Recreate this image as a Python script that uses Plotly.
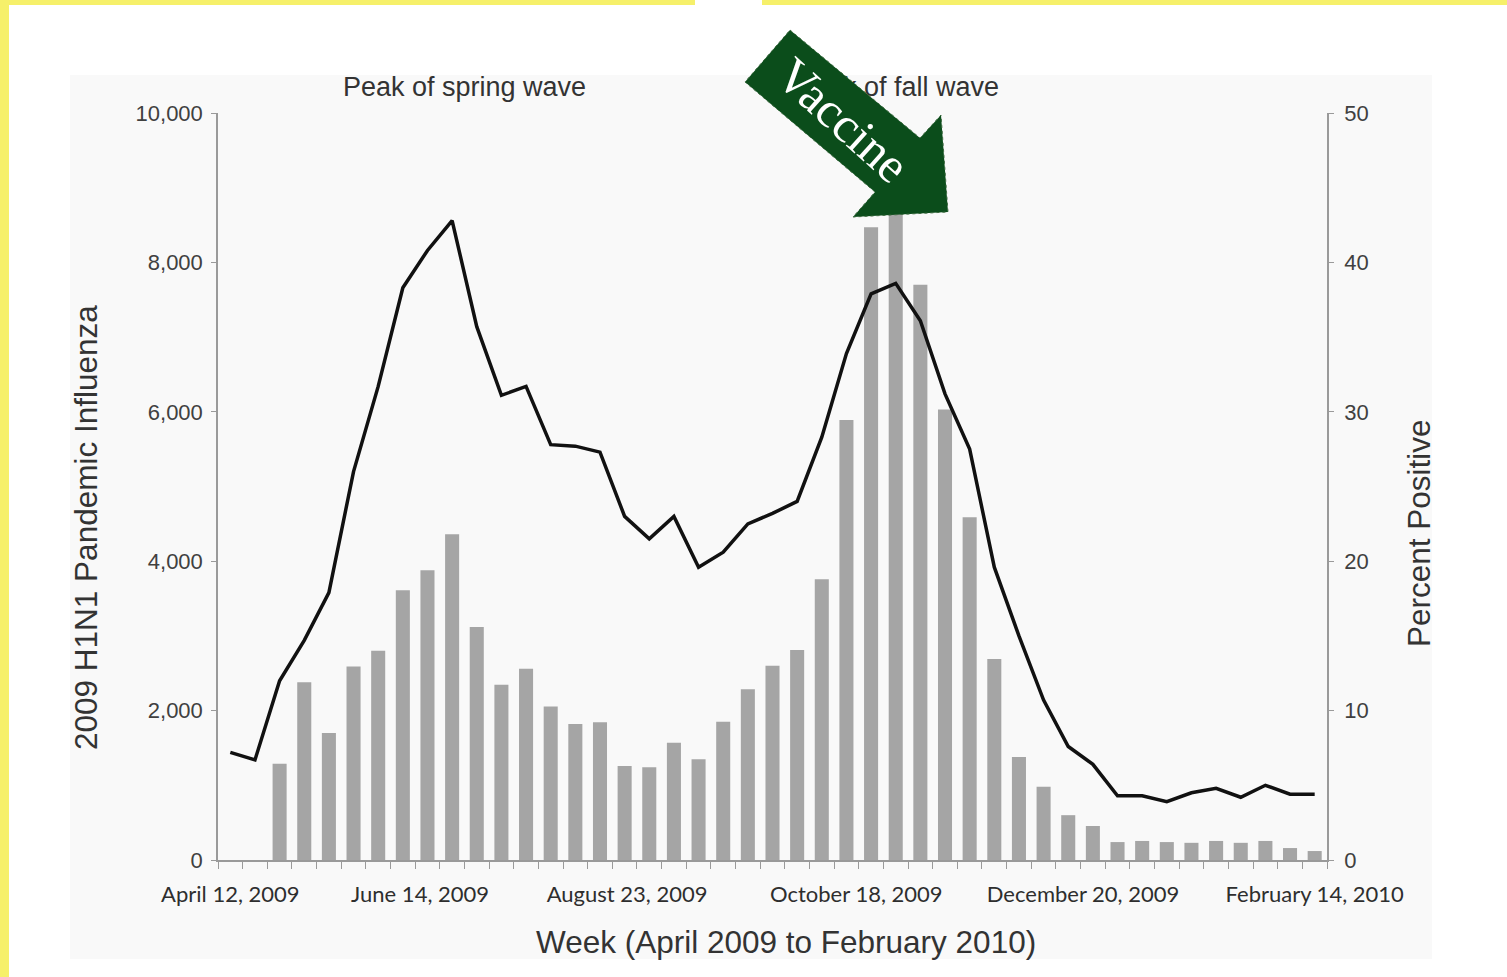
import plotly.graph_objects as go

# ---------------- data ----------------
week_index = list(range(45))  # weekly, April 12, 2009 .. February 14, 2010
cases = [None, None, 1290, 2380, 1700, 2590, 2800, 3610, 3880, 4360,
         3120, 2345, 2560, 2055, 1820, 1845, 1260, 1240, 1570, 1350,
         1850, 2285, 2600, 2810, 3760, 5890, 8470, 8750, 7700, 6030,
         4590, 2690, 1380, 980, 600, 455, 240, 255, 240, 230,
         255, 230, 255, 160, 120]
percent_positive = [7.2, 6.7, 12.0, 14.7, 17.9, 26.0, 31.7, 38.3, 40.8, 42.8,
                    35.7, 31.1, 31.7, 27.8, 27.7, 27.3, 23.0, 21.5, 23.0, 19.6,
                    20.6, 22.5, 23.2, 24.0, 28.3, 33.9, 37.9, 38.6, 36.1, 31.2,
                    27.5, 19.6, 15.0, 10.7, 7.6, 6.4, 4.3, 4.3, 3.9, 4.5,
                    4.8, 4.2, 5.0, 4.4, 4.4]
tick_labels = ["April 12, 2009", "June 14, 2009", "August 23, 2009",
               "October 18, 2009", "December 20, 2009", "February 14, 2010"]
tick_positions = [0, 7.7, 16.1, 25.4, 34.6, 44]
left_ticks = [0, 2000, 4000, 6000, 8000, 10000]
right_ticks = [0, 10, 20, 30, 40, 50]
wave_labels = ["Peak of spring wave", "Peak of fall wave"]
wave_positions = [9.5, 27.05]
x_title = "Week (April 2009 to February 2010)"
y_title = "2009 H1N1 Pandemic Influenza"
y2_title = "Percent Positive"

# ---------------- geometry helpers (pixel -> paper) ----------------
L, R, T, B = 218, 1327, 113, 860
W, H = 1507, 977
def px(x):
    return (x - L) / (R - L)
def py(y):
    return (B - y) / (B - T)

fig = go.Figure()

fig.add_trace(go.Bar(
    x=week_index, y=cases, marker=dict(color="#a5a5a5", line=dict(width=0)),
    width=0.57, name="Cases", xaxis="x", yaxis="y"))

fig.add_trace(go.Scatter(
    x=week_index, y=percent_positive, mode="lines", xaxis="x2", yaxis="y2",
    line=dict(color="#111111", width=3.5), name="Percent Positive"))

axis_col = "#9a9a9a"
sans = "Liberation Sans, Arial, sans-serif"
tick_font = dict(family=sans, size=22, color="#404040")
title_font = dict(family=sans, size=31.5, color="#333333")

shapes = []
# light chart panel
shapes.append(dict(type="rect", xref="paper", yref="paper", layer="below",
                   x0=px(70), x1=px(1432), y0=py(959), y1=py(75),
                   fillcolor="#f9f9f9", line=dict(width=0)))
# yellow frame strips
yellow = "#f6f06a"
shapes.append(dict(type="rect", xref="paper", yref="paper", layer="below",
                   x0=px(0), x1=px(9), y0=py(H), y1=py(0),
                   fillcolor=yellow, line=dict(width=0)))
shapes.append(dict(type="rect", xref="paper", yref="paper", layer="below",
                   x0=px(0), x1=px(695), y0=py(5), y1=py(0),
                   fillcolor=yellow, line=dict(width=0)))
shapes.append(dict(type="rect", xref="paper", yref="paper", layer="below",
                   x0=px(762), x1=px(W), y0=py(5), y1=py(0),
                   fillcolor=yellow, line=dict(width=0)))
# green block arrow
arrow_px = [(790, 30), (920, 138), (941, 115), (948, 212), (853, 217), (875, 192), (745, 82)]
path = "M " + " L ".join(f"{px(a):.5f},{py(b):.5f}" for a, b in arrow_px) + " Z"
shapes.append(dict(type="path", xref="paper", yref="paper", layer="above", path=path,
                   fillcolor="#0b4d1b", line=dict(color="#3d6b40", width=1, dash="dot")))

annotations = [
    dict(xref="paper", yref="paper", x=px(843), y=py(120), text="Vaccine",
         showarrow=False, textangle=42, xanchor="center", yanchor="middle",
         font=dict(family="Liberation Serif, Times New Roman, serif", size=50, color="white")),
    dict(xref="paper", yref="paper", x=px(786), y=py(942), text=x_title,
         showarrow=False, xanchor="center", yanchor="middle", font=title_font),
    dict(xref="paper", yref="paper", x=px(86), y=py(528), text=y_title, textangle=-90,
         showarrow=False, xanchor="center", yanchor="middle", font=title_font),
    dict(xref="paper", yref="paper", x=px(1419), y=py(533), text=y2_title, textangle=-90,
         showarrow=False, xanchor="center", yanchor="middle", font=title_font),
]

fig.update_layout(
    width=W, height=H, autosize=False,
    margin=dict(l=L, r=W - R, t=T, b=H - B, pad=0),
    paper_bgcolor="white", plot_bgcolor="rgba(0,0,0,0)",
    showlegend=False, bargap=0.43,
    xaxis=dict(range=[-0.5, 44.5], tickmode="array", tickvals=tick_positions,
               ticktext=tick_labels, ticks="", showgrid=False, zeroline=False,
               showline=True, linecolor=axis_col, linewidth=1.5,
               tickfont=dict(family="Lato, Calibri, sans-serif", size=22, color="#2e2e2e"),
               ticklabelstandoff=14,
               minor=dict(tickmode="linear", tick0=-0.5, dtick=1, ticks="outside",
                          ticklen=7, tickcolor=axis_col, tickwidth=1.2, showgrid=False)),
    xaxis2=dict(range=[-0.5, 44.5], overlaying="x", side="top", anchor="y2",
                tickmode="array", tickvals=wave_positions, ticktext=wave_labels,
                ticks="", showgrid=False, zeroline=False, showline=False,
                tickfont=dict(family=sans, size=27, color="#333333"),
                ticklabelstandoff=11),
    yaxis=dict(range=[0, 10000], tickmode="array", tickvals=left_ticks, tickformat=",",
               ticks="outside", ticklen=5, tickcolor=axis_col, showgrid=False, zeroline=False,
               showline=True, linecolor=axis_col, linewidth=1.5, tickfont=tick_font,
               ticklabelstandoff=4),
    yaxis2=dict(range=[0, 50], overlaying="y", side="right", anchor="x2", tickmode="array",
                tickvals=right_ticks, ticks="outside", ticklen=5, tickcolor=axis_col,
                showgrid=False, zeroline=False, showline=True, linecolor=axis_col,
                linewidth=1.5, tickfont=tick_font, ticklabelstandoff=6),
    shapes=shapes,
    annotations=annotations,
)

fig.write_html("out.html", config={"displayModeBar": False},
               post_script="document.body.style.margin='0px';")
